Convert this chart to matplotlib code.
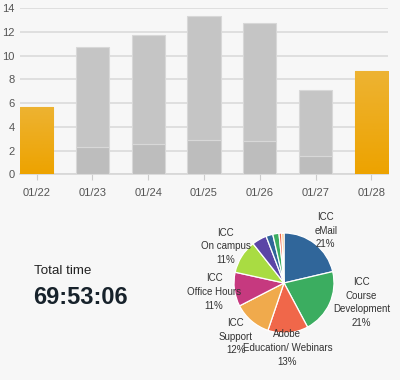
import matplotlib
matplotlib.use('Agg')
import matplotlib.pyplot as plt
import numpy as np

plt.rcParams.update({
    'font.family': ['Liberation Sans', 'DejaVu Sans'],
    'font.size': 8,
})

BG = '#f7f7f7'

# daily hours (bar chart)
days = ['01/22', '01/23', '01/24', '01/25', '01/26', '01/27', '01/28']
total_hours = [5.67, 10.71, 11.75, 13.35, 12.78, 7.11, 8.68]
lower_hours = [0, 2.33, 2.55, 2.89, 2.81, 1.57, 0]
highlight = [True, False, False, False, False, False, True]
y_ticks = [0, 2, 4, 6, 8, 10, 12, 14]

# category share (pie)
pie_labels = ['ICC\neMail\n21%', 'ICC\nCourse\nDevelopment\n21%',
              'Adobe\nEducation/ Webinars\n13%', 'ICC\nSupport\n12%',
              'ICC\nOffice Hours\n11%', 'ICC\nOn campus\n11%',
              '', '', '', '', '']
pie_values = [21.3, 20.8, 13.0, 12.2, 11.0, 10.9, 4.8, 2.2, 2.0, 0.9, 0.7]
pie_colors = ['#30669a', '#3bad60', '#f0674a', '#f0aa4c', '#c6397f', '#a9dc42',
              '#5b45a6', '#30669a', '#3bad60', '#f0674a', '#f0aa4c']
label_dist = [1.34, 1.60, 1.30, 1.44, 1.41, 1.38]
label_ang = [None, 104, 177, 222, None, None]

total_label = 'Total time'
total_value = '69:53:06'

fig = plt.figure(figsize=(4, 3.8), dpi=100, facecolor=BG)

# ---- bar chart ----
ax = fig.add_axes([0.05, 0.5413, 0.92, 0.4368])
ax.set_facecolor(BG)
x = np.arange(len(days))
w = 0.6
grad = np.linspace(0, 1, 64).reshape(-1, 1)
orange_cmap = matplotlib.colors.LinearSegmentedColormap.from_list('o', ['#eda300', '#edb332'])
for i in x:
    if highlight[i]:
        b = ax.bar(i, total_hours[i], w, color='#eeaa14', edgecolor='#f2c45a', linewidth=0.8, zorder=3)[0]
        im = ax.imshow(grad, extent=(i - w / 2, i + w / 2, 0, total_hours[i]), origin='lower',
                       cmap=orange_cmap, aspect='auto', zorder=3.5)
        im.set_clip_path(b)
    else:
        ax.bar(i, lower_hours[i], w, color='#bdbdbd', edgecolor='#d8d8d8', linewidth=0.8, zorder=3)
        ax.bar(i, total_hours[i] - lower_hours[i], w, bottom=lower_hours[i],
               color='#c5c5c5', edgecolor='#d8d8d8', linewidth=0.8, zorder=3)
ax.set_xlim(-w / 2, len(days) - 1 + w / 2)
ax.set_ylim(0, 14)
ax.set_yticks(y_ticks)
ax.set_xticks(x)
ax.set_xticklabels(days)
ax.grid(axis='y', color='#dddddd', linewidth=1.3, zorder=0)
ax.tick_params(axis='y', length=0, pad=4, colors='#555555', labelsize=8)
ax.tick_params(axis='x', length=4, color='#cccccc', pad=6, colors='#555555', labelsize=8)
for s in ['top', 'right', 'left']:
    ax.spines[s].set_visible(False)
ax.spines['bottom'].set_color('#d8d8d8')
ax.spines['bottom'].set_linewidth(1.3)

# ---- total time ----
fig.text(34 / 400, 1 - 271 / 380, total_label, fontsize=9.6, color='#222222', va='center', ha='left')
fig.text(33 / 400, 1 - 297 / 380, total_value, fontsize=17, fontweight='bold', color='#17222b',
         va='center', ha='left')

# ---- pie ----
pax = fig.add_axes([184 / 400, 1 - 383 / 380, 200 / 400, 200 / 380])
pax.set_facecolor('none')
wedges, _ = pax.pie(pie_values, colors=pie_colors, startangle=90, counterclock=False,
                    wedgeprops=dict(edgecolor='white', linewidth=0.9))
for wdg, lab, d, a in zip(wedges, pie_labels, label_dist, label_ang):
    deg = (wdg.theta1 + wdg.theta2) / 2 if a is None else 90 - a
    ang = np.deg2rad(deg)
    pax.text(d * np.cos(ang), d * np.sin(ang), lab, ha='center', va='center',
             fontsize=7, color='#333333', linespacing=1.45)
pax.set_xlim(-2, 2)
pax.set_ylim(-2, 2)
pax.set_aspect('equal')
pax.axis('off')

fig.savefig('out.png', dpi=100, facecolor=BG)
